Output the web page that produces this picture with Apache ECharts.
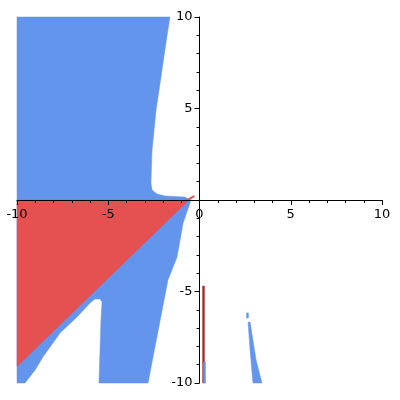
<!DOCTYPE html>
<html><head><meta charset="utf-8">
<script src="https://cdn.jsdelivr.net/npm/echarts@6/dist/echarts.min.js"></script>
<style>html,body{margin:0;padding:0;background:#fff}#c{width:400px;height:400px}</style>
</head><body><div id="c"></div>
<script>
var xTicks = [-10, -5, 0, 5, 10];
var yTicks = [-10, -5, 0, 5, 10];
var blueUpper = [[-10,10],[-1.62,10],[-1.84,8.58],[-2.11,6.72],[-2.38,4.92],[-2.60,2.73],[-2.66,0.93],[-2.60,0.55],[-2.33,0.33],[-1.89,0.22],[-0.79,0.16],[-0.52,0],[-10,0]];
var blueLower = [[-10,0],[-0.47,0],[-0.52,-0.16],[-0.90,-1.26],[-1.23,-3.11],[-1.73,-4.37],[-2.82,-10],[-5.51,-10],[-5.45,-8.20],[-5.40,-6.56],[-5.34,-5.57],[-5.45,-5.41],[-5.73,-5.41],[-6.0,-5.63],[-6.71,-6.39],[-7.64,-7.27],[-8.58,-8.58],[-9.01,-9.29],[-9.56,-10],[-10,-10]];
var redTriangle = [[-10,0],[-0.58,0],[-10,-9.1]];
var redSliver = [[-0.75,0],[-0.32,0.24],[-0.26,0.19],[-0.55,0]];
var blueStreak = [[2.66,-6.67],[2.77,-6.67],[3.10,-8.74],[3.42,-10],[2.93,-10],[2.77,-8.20]];
var blueDot = [[2.58,-6.17],[2.68,-6.17],[2.68,-6.45],[2.58,-6.45]];
var redLine = [[0.17,-4.7],[0.27,-4.7],[0.27,-10],[0.17,-10]];
var blueSliver = [[0.22,-8.85],[0.33,-8.85],[0.33,-10],[0.22,-10]];

var BLUE = '#6495ED', RED = '#E55050', DARKRED = '#A82828';
var polys = [
  {pts: blueUpper, color: BLUE},
  {pts: blueLower, color: BLUE},
  {pts: redTriangle, color: RED},
  {pts: redSliver, color: RED},
  {pts: blueStreak, color: BLUE},
  {pts: blueDot, color: BLUE},
  {pts: redLine, color: DARKRED},
  {pts: blueSliver, color: BLUE}
];

var GL = 17, GR = 18, GT = 17, GB = 17, W = 400, H = 400;
var chart = echarts.init(document.getElementById('c'));
var axisCommon = {
  type: 'value', min: -10, max: 10, interval: 5, z: 10,
  axisLine: {onZero: false, lineStyle: {color: '#000', width: 1}},
  axisTick: {show: true, length: 5, lineStyle: {color: '#000'}},
  minorTick: {show: true, splitNumber: 5, length: 3, lineStyle: {color: '#000'}},
  splitLine: {show: false},
  axisLabel: {color: '#000', fontFamily: 'DejaVu Sans', fontSize: 13, showMinLabel: true, showMaxLabel: true}
};
var plotW = W - GL - GR, plotH = H - GT - GB;
chart.setOption({
  animation: false,
  grid: {left: GL, right: GR, top: GT, bottom: GB, containLabel: false, outerBoundsMode: 'none'},
  xAxis: Object.assign({}, axisCommon, {position: 'bottom', offset: -plotH / 2,
    axisLabel: Object.assign({}, axisCommon.axisLabel, {margin: 8})}),
  yAxis: Object.assign({}, axisCommon, {position: 'left', offset: -plotW / 2,
    axisLabel: Object.assign({}, axisCommon.axisLabel, {margin: 7, formatter: function(v){return v === 0 ? '' : String(v);}})}),
  series: [{
    type: 'custom', z: 1,
    data: polys.map(function(p, i){ return [p.pts[0][0], p.pts[0][1], i]; }),
    renderItem: function(params, api){
      var p = polys[params.dataIndex];
      var pts = p.pts.map(function(q){ return api.coord(q); });
      return {type: 'polygon', shape: {points: pts}, style: {fill: p.color, stroke: p.color, lineWidth: 0.5}};
    }
  }]
});
</script></body></html>
